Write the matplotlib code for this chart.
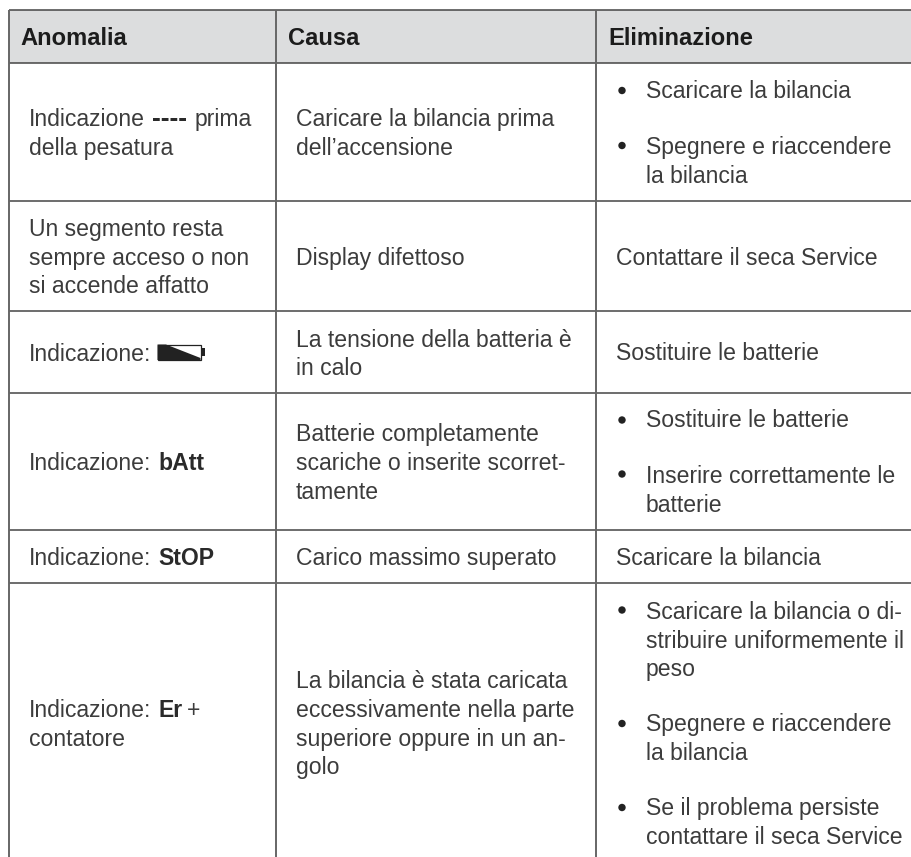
import matplotlib
matplotlib.use('Agg')
import matplotlib.pyplot as plt
from matplotlib.patches import Circle, Polygon, Rectangle

W, H = 911, 857
TEXT = '#3c3c3c'
BOLD = '#2a2a2a'
LINE = '#666666'
FS = 16.6

headers = ['Anomalia', 'Causa', 'Eliminazione']
col_x = [9, 276, 596]
row_y = [9.5, 63, 200.5, 311, 392.5, 529.5, 583]

# (x, baseline, text, bold)
col1 = [
    (29, 126, 'Indicazione', False), (195, 126, 'prima', False),
    (29, 155, 'della pesatura', False),
    (29, 236, 'Un segmento resta', False),
    (29, 265, 'sempre acceso o non', False),
    (29, 293, 'si accende affatto', False),
    (29, 361, 'Indicazione:', False),
    (29, 470, 'Indicazione:', False), (158, 470, 'bAtt', True),
    (29, 565, 'Indicazione:', False), (158, 565, 'StOP', True),
    (29, 717, 'Indicazione:', False), (158, 717, 'Er', True), (187, 717, '+', False),
    (29, 746, 'contatore', False),
]
col2 = [
    (296, 126, 'Caricare la bilancia prima'),
    (296, 155, 'dell’accensione'),
    (296, 265, 'Display difettoso'),
    (296, 347, 'La tensione della batteria è'),
    (296, 375, 'in calo'),
    (296, 441, 'Batterie completamente'),
    (296, 470, 'scariche o inserite scorret-'),
    (296, 499, 'tamente'),
    (296, 565, 'Carico massimo superato'),
    (296, 688, 'La bilancia è stata caricata'),
    (296, 717, 'eccessivamente nella parte'),
    (296, 746, 'superiore oppure in un an-'),
    (296, 774, 'golo'),
]
col3 = [
    (646, 98, 'Scaricare la bilancia'),
    (646, 154, 'Spegnere e riaccendere'),
    (646, 183, 'la bilancia'),
    (616, 265, 'Contattare il seca Service'),
    (616, 360, 'Sostituire le batterie'),
    (646, 427, 'Sostituire le batterie'),
    (646, 483, 'Inserire correttamente le'),
    (646, 512, 'batterie'),
    (616, 565, 'Scaricare la bilancia'),
    (646, 619, 'Scaricare la bilancia o di-'),
    (646, 648, 'stribuire uniformemente il'),
    (646, 676, 'peso'),
    (646, 731, 'Spegnere e riaccendere'),
    (646, 760, 'la bilancia'),
    (646, 815, 'Se il problema persiste'),
    (646, 844, 'contattare il seca Service'),
]
bullets_y = [90.5, 145.5, 420, 474, 610, 723.5, 807.5]

plt.rcParams['font.family'] = ['Liberation Sans', 'DejaVu Sans']
fig = plt.figure(figsize=(W / 100, H / 100), dpi=100)
ax = fig.add_axes([0, 0, 1, 1])
ax.set_xlim(0, W)
ax.set_ylim(H, 0)
ax.axis('off')

# header band and grid, table runs off the right edge
ax.add_patch(Rectangle((col_x[0], row_y[0]), W - col_x[0], row_y[1] - row_y[0], fc='#dcddde', ec='none'))
for y in row_y:
    ax.plot([col_x[0], W], [y, y], color='#454545', lw=1.1, solid_capstyle='butt')
for x in col_x:
    ax.plot([x, x], [row_y[0], H], color=LINE, lw=1.4, solid_capstyle='butt')

for x, name in zip([20.5, 288, 608.5], headers):
    ax.text(x, 44.5, name, fontsize=17.1, fontweight='bold', color='#1c1c1c', va='baseline')

for x, y, s, bold in col1:
    ax.text(x, y, s, fontsize=FS, fontweight='bold' if bold else 'normal', color=BOLD if bold else TEXT, va='baseline')
ax.text(152, 126, '----', fontsize=19, fontweight='bold', color=BOLD, va='baseline')
for x, y, s in col2 + col3:
    ax.text(x, y, s, fontsize=FS, color=TEXT, va='baseline')
for y in bullets_y:
    ax.add_patch(Circle((622, y), 3.7, fc='#222222', ec='none'))

# battery glyph
ax.add_patch(Rectangle((157.5, 345), 43, 14.5, fc='white', ec='#222222', lw=0.9))
ax.add_patch(Polygon([(157.5, 344.5), (166, 344.5), (200.5, 358), (200.5, 360), (157.5, 360)], fc='#222222', ec='none'))
ax.add_patch(Rectangle((200.5, 348), 4.5, 8, fc='#222222', ec='none'))

fig.savefig('out.png', dpi=100)
